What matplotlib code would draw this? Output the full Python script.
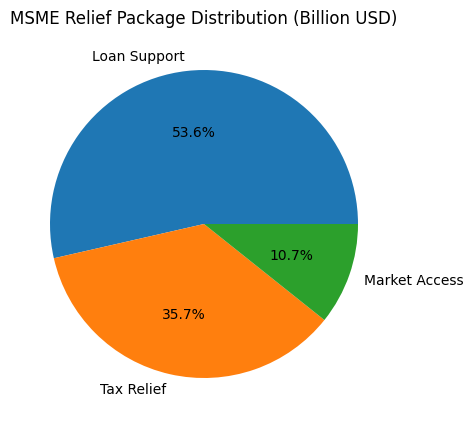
import matplotlib
matplotlib.use("Agg")
import matplotlib.pyplot as plt

categories = ["Loan Support", "Tax Relief", "Market Access"]
values = [15, 10, 3]

fig = plt.figure(figsize=(4.73, 4.27), dpi=100)
ax = fig.add_axes([11.5/473, 9.5/427, 385/473, 385/427])
ax.pie(values, labels=categories, autopct="%1.1f%%")
ax.set_title("MSME Relief Package Distribution (Billion USD)")
fig.savefig("out.png", dpi=100)
